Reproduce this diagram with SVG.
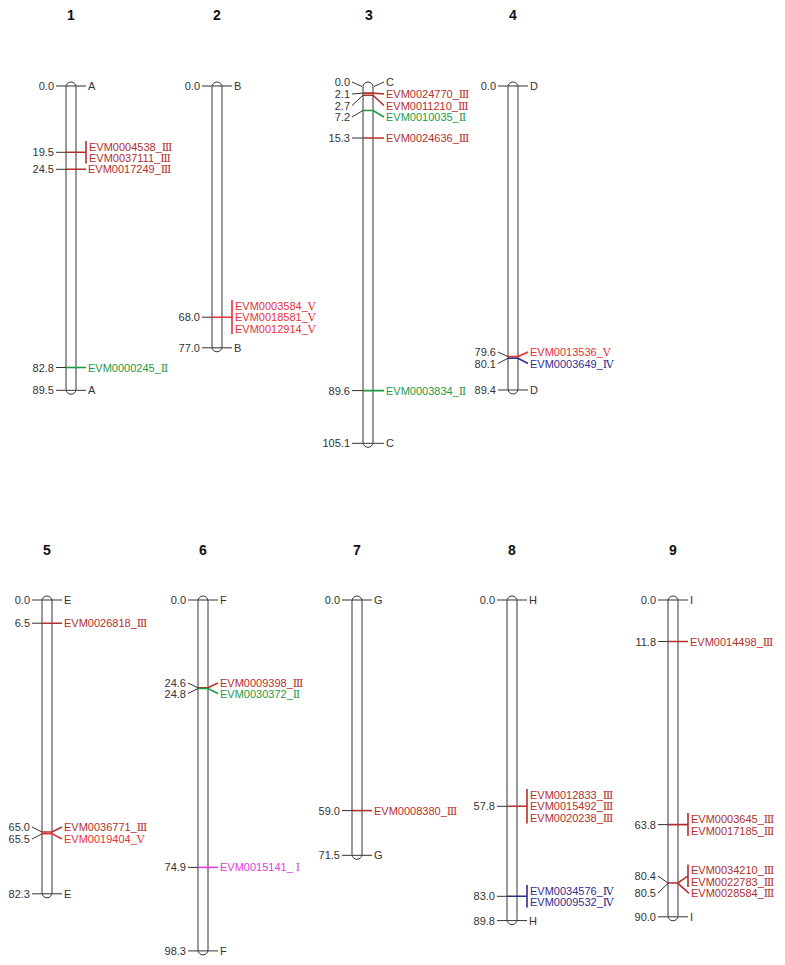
<svg xmlns="http://www.w3.org/2000/svg" width="785" height="965" viewBox="0 0 785 965">
<style>
text{font-family:"Liberation Sans","DejaVu Serif","Noto Sans CJK SC",sans-serif;font-size:11px}
.ttl{font-weight:bold;font-size:14px;text-anchor:middle;fill:#111}
.num{text-anchor:end;fill:#333}
.end{fill:#333}
.chr{fill:#fff;stroke:#333;stroke-width:1}
.tk{stroke:#333;stroke-width:1;fill:none}
.c3{stroke:#b3302e;stroke-width:1.6;fill:none}
.c5{stroke:#e8323a;stroke-width:1.6;fill:none}
.c2{stroke:#1f9a44;stroke-width:1.6;fill:none}
.c4{stroke:#2e2e8e;stroke-width:1.6;fill:none}
.c1{stroke:#e03ce0;stroke-width:1.6;fill:none}
.t3{fill:#b3302e}.t5{fill:#e8323a}.t2{fill:#1f9a44}.t4{fill:#2e2e8e}.t1{fill:#e03ce0}
</style>
<rect width="785" height="965" fill="#fff"/>

<g id="titles">
<text class="ttl" x="71" y="20">1</text>
<text class="ttl" x="217" y="20">2</text>
<text class="ttl" x="369" y="20">3</text>
<text class="ttl" x="513" y="20">4</text>
<text class="ttl" x="47" y="555">5</text>
<text class="ttl" x="203" y="555">6</text>
<text class="ttl" x="357" y="555">7</text>
<text class="ttl" x="512" y="555">8</text>
<text class="ttl" x="673" y="555">9</text>
</g>

<g id="chr1">
<rect class="chr" x="66" y="82" width="10" height="312.3" rx="5"/>
<text class="num" x="54" y="90">0.0</text><text class="end" x="88" y="90">A</text>
<text class="num" x="54" y="156.3">19.5</text>
<text class="t3" x="89" y="150.5">EVM0004538_Ⅲ</text><text class="t3" x="89" y="162.2">EVM0037111_Ⅲ</text>
<text class="num" x="54" y="173.3">24.5</text>
<text class="t3" x="88" y="173.3">EVM0017249_Ⅲ</text>
<text class="num" x="54" y="371.5">82.8</text>
<text class="t2" x="88" y="371.5">EVM0000245_Ⅱ</text>
<text class="num" x="54" y="394.3">89.5</text><text class="end" x="88" y="394.3">A</text>
</g>

<g id="chr2">
<rect class="chr" x="212" y="82" width="10" height="269.8" rx="5"/>
<text class="num" x="200" y="90">0.0</text><text class="end" x="234" y="90">B</text>
<text class="num" x="200" y="321.2">68.0</text>
<text class="t5" x="235" y="309.5">EVM0003584_Ⅴ</text><text class="t5" x="235" y="321.2">EVM0018581_Ⅴ</text><text class="t5" x="235" y="332.9">EVM0012914_Ⅴ</text>
<text class="num" x="200" y="351.8">77.0</text><text class="end" x="234" y="351.8">B</text>
</g>

<g id="chr3">
<rect class="chr" x="363" y="82" width="10" height="365.3" rx="5"/>
<text class="num" x="350" y="86">0.0</text><text class="end" x="386" y="86">C</text>
<text class="num" x="350" y="98">2.1</text><text class="t3" x="386" y="98">EVM0024770_Ⅲ</text>
<text class="num" x="350" y="109.5">2.7</text><text class="t3" x="386" y="109.5">EVM0011210_Ⅲ</text>
<text class="num" x="350" y="121">7.2</text><text class="t2" x="386" y="121">EVM0010035_Ⅱ</text>
<text class="num" x="350" y="142">15.3</text><text class="t3" x="386" y="142">EVM0024636_Ⅲ</text>
<text class="num" x="350" y="394.6">89.6</text><text class="t2" x="386" y="394.6">EVM0003834_Ⅱ</text>
<text class="num" x="350" y="447.3">105.1</text><text class="end" x="386" y="447.3">C</text>
</g>

<g id="chr4">
<rect class="chr" x="508" y="82" width="10" height="312" rx="5"/>
<text class="num" x="496" y="90">0.0</text><text class="end" x="530" y="90">D</text>
<text class="num" x="496" y="356">79.6</text><text class="t5" x="530" y="356">EVM0013536_Ⅴ</text>
<text class="num" x="496" y="367.5">80.1</text><text class="t4" x="530" y="367.5">EVM0003649_Ⅳ</text>
<text class="num" x="496" y="394">89.4</text><text class="end" x="530" y="394">D</text>
</g>

<g id="chr5">
<rect class="chr" x="42" y="596" width="10" height="301.8" rx="5"/>
<text class="num" x="30" y="604">0.0</text><text class="end" x="64" y="604">E</text>
<text class="num" x="30" y="627.2">6.5</text><text class="t3" x="64" y="627.2">EVM0026818_Ⅲ</text>
<text class="num" x="30" y="831">65.0</text><text class="t3" x="64" y="831">EVM0036771_Ⅲ</text>
<text class="num" x="30" y="843">65.5</text><text class="t5" x="64" y="843">EVM0019404_Ⅴ</text>
<text class="num" x="30" y="897.8">82.3</text><text class="end" x="64" y="897.8">E</text>
</g>

<g id="chr6">
<rect class="chr" x="198" y="596" width="10" height="358.9" rx="5"/>
<text class="num" x="186" y="604">0.0</text><text class="end" x="220" y="604">F</text>
<text class="num" x="186" y="687">24.6</text><text class="t3" x="220" y="687">EVM0009398_Ⅲ</text>
<text class="num" x="186" y="697.5">24.8</text><text class="t2" x="220" y="697.5">EVM0030372_Ⅱ</text>
<text class="num" x="186" y="871.4">74.9</text><text class="t1" x="220" y="871.4">EVM0015141_ Ⅰ</text>
<text class="num" x="186" y="954.9">98.3</text><text class="end" x="220" y="954.9">F</text>
</g>

<g id="chr7">
<rect class="chr" x="352" y="596" width="10" height="263.3" rx="5"/>
<text class="num" x="340" y="604">0.0</text><text class="end" x="374" y="604">G</text>
<text class="num" x="340" y="814.6">59.0</text><text class="t3" x="374" y="814.6">EVM0008380_Ⅲ</text>
<text class="num" x="340" y="859.3">71.5</text><text class="end" x="374" y="859.3">G</text>
</g>

<g id="chr8">
<rect class="chr" x="507" y="596" width="10" height="328.6" rx="5"/>
<text class="num" x="495" y="604">0.0</text><text class="end" x="529" y="604">H</text>
<text class="num" x="495" y="810.3">57.8</text>
<text class="t3" x="530" y="798.6">EVM0012833_Ⅲ</text><text class="t3" x="530" y="810.3">EVM0015492_Ⅲ</text><text class="t3" x="530" y="822">EVM0020238_Ⅲ</text>
<text class="num" x="495" y="900.3">83.0</text>
<text class="t4" x="530" y="894.5">EVM0034576_Ⅳ</text><text class="t4" x="530" y="906.2">EVM0009532_Ⅳ</text>
<text class="num" x="495" y="924.6">89.8</text><text class="end" x="529" y="924.6">H</text>
</g>

<g id="chr9">
<rect class="chr" x="668" y="596" width="10" height="324.8" rx="5"/>
<text class="num" x="656" y="604">0.0</text><text class="end" x="690" y="604">I</text>
<text class="num" x="656" y="645.5">11.8</text><text class="t3" x="690" y="645.5">EVM0014498_Ⅲ</text>
<text class="num" x="656" y="828.6">63.8</text>
<text class="t3" x="691" y="822.8">EVM0003645_Ⅲ</text><text class="t3" x="691" y="834.5">EVM0017185_Ⅲ</text>
<text class="num" x="656" y="880">80.4</text><text class="num" x="656" y="897">80.5</text>
<text class="t3" x="691" y="874">EVM0034210_Ⅲ</text><text class="t3" x="691" y="885.7">EVM0022783_Ⅲ</text><text class="t3" x="691" y="897.4">EVM0028584_Ⅲ</text>
<text class="num" x="656" y="920.8">90.0</text><text class="end" x="690" y="920.8">I</text>
</g>

<g id="connectors">
<!-- chr1 -->
<path class="tk" d="M56 86H86M56 152.3H66M56 169.3H66M56 367.5H66M56 390.3H86"/>
<path class="c3" d="M66 152.3H86M86 141V163.5M66 169.3H86"/>
<path class="c2" d="M66 367.5H86"/>
<!-- chr2 -->
<path class="tk" d="M202 86H232M202 317.2H212M202 347.8H232"/>
<path class="c5" d="M212 317.2H232M232 300V334"/>
<!-- chr3 -->
<path class="tk" d="M352 82L362 86.5M374 86.5L384 82M352 94L363 93.1M352 105.5L363 95.2M352 117L363 110.5M352 138H363M352 390.6H363M352 443.3H384"/>
<path class="c3" d="M363 93.1H373L384 94M363 95.2H373L384 105.5M363 138H384"/>
<path class="c2" d="M363 110.5H373L384 117M363 390.6H384"/>
<!-- chr4 -->
<path class="tk" d="M498 86H528M498 352L508 356.6M498 363.5L508 358.3M498 390H528"/>
<path class="c5" d="M508 356.6H518L528 352"/>
<path class="c4" d="M508 358.3H518L528 363.5"/>
<!-- chr5 -->
<path class="tk" d="M32 600H62M32 623.2H42M32 827L42 832M32 839L42 833.8M32 893.8H62"/>
<path class="c3" d="M42 623.2H62M42 832H52L62 827"/>
<path class="c5" d="M42 833.8H52L62 839"/>
<!-- chr6 -->
<path class="tk" d="M188 600H218M188 683L198 687.8M188 693.5L198 688.5M188 867.4H198M188 950.9H218"/>
<path class="c3" d="M198 687.8H208L218 683"/>
<path class="c2" d="M198 688.5H208L218 693.5"/>
<path class="c1" d="M198 867.4H218"/>
<!-- chr7 -->
<path class="tk" d="M342 600H372M342 810.6H352M342 855.3H372"/>
<path class="c3" d="M352 810.6H372"/>
<!-- chr8 -->
<path class="tk" d="M497 600H527M497 806.3H507M497 896.3H507M497 920.6H527"/>
<path class="c3" d="M507 806.3H527M527 789V823.5"/>
<path class="c4" d="M507 896.3H527M527 885V907.5"/>
<!-- chr9 -->
<path class="tk" d="M658 600H688M658 641.5H668M658 824.6H668M658 876L668 883M658 893L668 883.4M658 916.8H688"/>
<path class="c3" d="M668 641.5H688M668 824.6H688M688 813V836M668 883H678L688 875.8M688 864.5V887M678 883.4L689 893.4"/>
</g>
</svg>
